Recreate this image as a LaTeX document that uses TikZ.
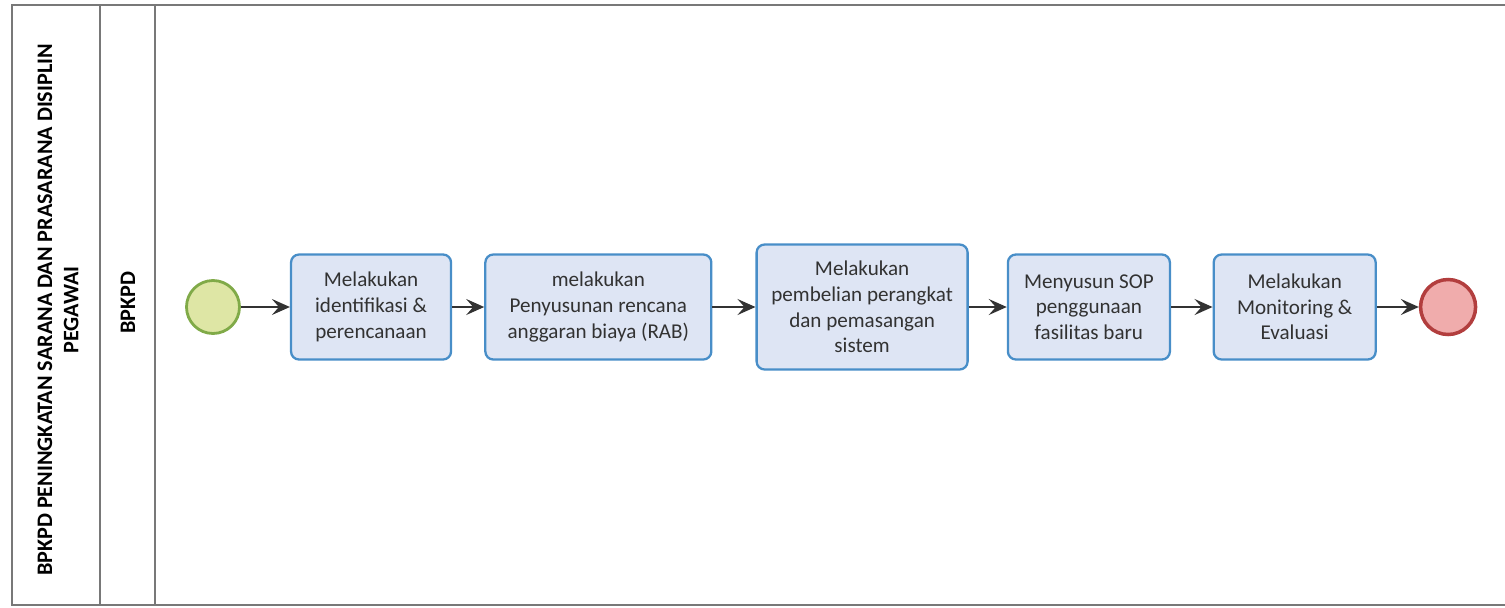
\documentclass[tikz,border=0pt]{standalone}
\usepackage{fontspec}
\setmainfont{Carlito}
\usepackage{tikz}
\usetikzlibrary{positioning,arrows.meta}
\usepackage{xcolor}
\definecolor{taskfill}{RGB}{222,229,244}
\definecolor{taskline}{RGB}{72,142,200}
\definecolor{startfill}{RGB}{222,230,165}
\definecolor{startline}{RGB}{128,170,72}
\definecolor{endfill}{RGB}{240,172,172}
\definecolor{endline}{RGB}{178,62,62}
\definecolor{poolline}{RGB}{120,120,120}
\definecolor{inktext}{RGB}{50,50,50}

\begin{document}
\begin{tikzpicture}[node distance=8.3mm, every node/.style={font=\fontsize{12}{14.6}\selectfont, text=inktext}]
  \useasboundingbox (0,0) rectangle (30.1,-12.14);
  % pool and lane
  \draw[poolline, line width=0.9pt] (31,-0.1) -- (0.24,-0.1) -- (0.24,-12.1) -- (31,-12.1);
  \draw[poolline, line width=0.9pt] (2,-0.1) -- (2,-12.1);
  \draw[poolline, line width=0.9pt] (3.1,-0.1) -- (3.1,-12.1);
  \node[rotate=90, align=center, font=\fontsize{12.6}{15}\bfseries, text=black] (pool) at (1.16,-6.2) {BPKPD PENINGKATAN SARANA DAN PRASARANA DISIPLIN\\PEGAWAI};
  \node[rotate=90, font=\fontsize{12.6}{15}\bfseries, text=black] (lane) at (2.56,-6.05) {BPKPD};
  % flow
  \node[circle, draw=startline, fill=startfill, line width=1.6pt, minimum size=10.6mm, inner sep=0pt] (start) at (4.26,-6.14) {};
  \node[draw=taskline, fill=taskfill, line width=1.3pt, rounded corners=1.6mm, minimum height=21mm, minimum width=32mm, align=center, right=9.8mm of start] (ident) {Melakukan\\identifikasi \&\\perencanaan};
  \node[draw=taskline, fill=taskfill, line width=1.3pt, rounded corners=1.6mm, minimum height=21mm, minimum width=45.2mm, align=center, right=6.4mm of ident] (rab) {melakukan\\Penyusunan rencana\\anggaran biaya (RAB)};
  \node[draw=taskline, fill=taskfill, line width=1.3pt, rounded corners=1.6mm, minimum height=25mm, minimum width=42.2mm, align=center, right=8.6mm of rab] (beli) {Melakukan\\pembelian perangkat\\dan pemasangan\\sistem};
  \node[draw=taskline, fill=taskfill, line width=1.3pt, rounded corners=1.6mm, minimum height=21mm, minimum width=32.4mm, align=center, right=7.6mm of beli] (sop) {Menyusun SOP\\penggunaan\\fasilitas baru};
  \node[draw=taskline, fill=taskfill, line width=1.3pt, rounded corners=1.6mm, minimum height=21mm, minimum width=32.4mm, align=center, right=of sop] (monev) {Melakukan\\Monitoring \&\\Evaluasi};
  \node[circle, draw=endline, fill=endfill, line width=2pt, minimum size=11mm, inner sep=0pt, right=8.4mm of monev] (end) {};
  \draw[-{Stealth[length=3.6mm, width=3.2mm, inset=1.4mm]}, line width=1.1pt, inktext] (start) -- (ident);
  \draw[-{Stealth[length=3.6mm, width=3.2mm, inset=1.4mm]}, line width=1.1pt, inktext] (ident) -- (rab);
  \draw[-{Stealth[length=3.6mm, width=3.2mm, inset=1.4mm]}, line width=1.1pt, inktext] (rab) -- (beli);
  \draw[-{Stealth[length=3.6mm, width=3.2mm, inset=1.4mm]}, line width=1.1pt, inktext] (beli) -- (sop);
  \draw[-{Stealth[length=3.6mm, width=3.2mm, inset=1.4mm]}, line width=1.1pt, inktext] (sop) -- (monev);
  \draw[-{Stealth[length=3.6mm, width=3.2mm, inset=1.4mm]}, line width=1.1pt, inktext] (monev) -- (end);
\end{tikzpicture}
\end{document}
